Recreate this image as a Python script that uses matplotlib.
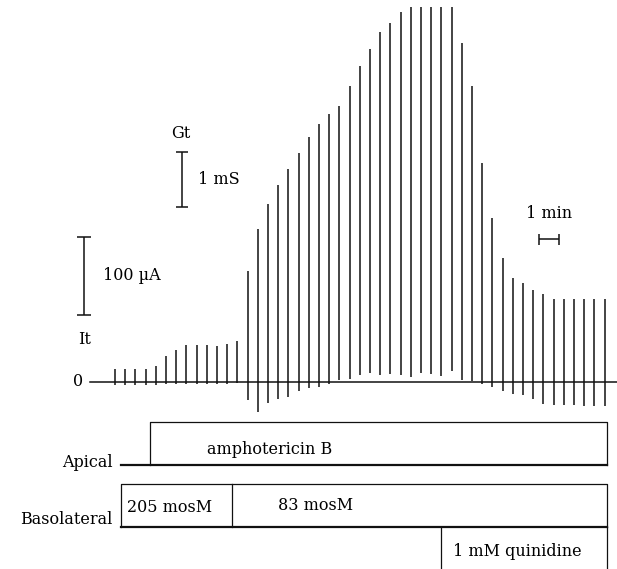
import matplotlib.pyplot as plt

plt.rcParams['font.family'] = 'DejaVu Serif'

# test pulses, one every 30 s (min)
pulse_t = [0.0, 0.5, 1.0, 1.5, 2.0, 2.5, 3.0, 3.5, 4.0, 4.5,
           5.0, 5.5, 6.0, 6.5, 7.0, 7.5, 8.0, 8.5, 9.0, 9.5,
           10.0, 10.5, 11.0, 11.5, 12.0, 12.5, 13.0, 13.5, 14.0, 14.5,
           15.0, 15.5, 16.0, 16.5, 17.0, 17.5, 18.0, 18.5, 19.0, 19.5,
           20.0, 20.5, 21.0, 21.5, 22.0, 22.5, 23.0, 23.5, 24.0]
# upper end of each current deflection (uA)
pulse_top = [16, 16, 16, 17, 21, 33, 41, 47, 47, 47,
             46, 48, 53, 142, 195, 227, 251, 272, 292, 313,
             330, 342, 353, 378, 404, 425, 447, 459, 473, 479,
             479, 479, 479, 479, 433, 378, 280, 210, 159, 133,
             127, 118, 112, 106, 106, 106, 106, 106, 106]
# lower end of each current deflection (uA)
pulse_bottom = [-4, -4, -4, -4, -4, -2, -2, -2, -2, -2,
                -2, -2, -1, -23, -38, -27, -22, -19, -12, -8,
                -6, -3, 3, 4, 9, 11, 9, 10, 9, 7,
                12, 10, 8, 14, 3, 1, -2, -7, -11, -15,
                -17, -22, -28, -29, -29, -29, -31, -31, -31]

# solution changes (min)
basolateral_start = 0.3
amphotericin_on = 1.7
hypo_on = 5.75
quinidine_on = 16.0
protocol_end = 24.1

# calibration bars
current_bar = 100   # uA
time_bar = 1        # min

PX_MIN = 20.4       # px per minute
PX_UA = 0.783       # px per uA
W, H = 617, 569
X0, Y0 = 115, 382   # pixel position of t=0, I=0

fig = plt.figure(figsize=(W / 100, H / 100), dpi=100)
ax = fig.add_axes([0, 0, 1, 1])
ax.set_xlim(-X0 / PX_MIN, (W - X0) / PX_MIN)
ax.set_ylim(-(H - Y0) / PX_UA, Y0 / PX_UA)
ax.axis('off')

ink = '#111111'
fs = 11.5

# zero line and pulses
ax.plot([-1.23, 24.6], [0, 0], color=ink, lw=1.1)
ax.vlines(pulse_t, pulse_bottom, pulse_top, color=ink, lw=1.1)
ax.text(-1.55, 0, '0', ha='right', va='center', fontsize=fs)
ax.text(-1.47, 54, 'It', ha='center', va='center', fontsize=fs)

# current bar
cx, cy = -1.52, 85.6
ax.vlines(cx, cy, cy + current_bar, color=ink, lw=1.1)
ax.hlines([cy, cy + current_bar], cx - 0.35, cx + 0.35, color=ink, lw=1.1)
ax.text(cx + 0.93, cy + current_bar / 2, '100 µA', ha='left', va='center', fontsize=fs)

# conductance bar
gx, gy = 3.27, 224
ax.vlines(gx, gy, gy + 70, color=ink, lw=1.1)
ax.hlines([gy, gy + 70], gx - 0.3, gx + 0.3, color=ink, lw=1.1)
ax.text(gx + 0.8, gy + 35, '1 mS', ha='left', va='center', fontsize=fs)
ax.text(gx - 0.03, gy + 70 + 24, 'Gt', ha='center', va='center', fontsize=fs)

# time bar
tx, ty = 20.78, 182
ax.hlines(ty, tx, tx + time_bar, color=ink, lw=1.1)
ax.vlines([tx, tx + time_bar], ty - 7, ty + 7, color=ink, lw=1.1)
ax.text(tx + time_bar / 2, ty + 33, '1 min', ha='center', va='center', fontsize=fs)

# protocol, y in pixels
axp = fig.add_axes([0, 0, 1, 1], sharex=ax)
axp.set_ylim(H, 0)
axp.axis('off')
axp.patch.set_alpha(0)

# apical
axp.plot([basolateral_start, protocol_end], [465, 465], color=ink, lw=1.6)
axp.plot([amphotericin_on, amphotericin_on, protocol_end, protocol_end],
         [465, 422, 422, 465], color=ink, lw=0.9)
axp.text(basolateral_start - 0.4, 462, 'Apical', ha='right', va='center', fontsize=fs)
axp.text(amphotericin_on + 2.8, 449, 'amphotericin B', ha='left', va='center', fontsize=fs)

# basolateral
axp.plot([basolateral_start, basolateral_start, protocol_end, protocol_end],
         [527, 484, 484, 527], color=ink, lw=0.9)
axp.plot([basolateral_start, protocol_end], [527, 527], color=ink, lw=1.6)
axp.plot([hypo_on, hypo_on], [484, 527], color=ink, lw=0.9)
axp.text(basolateral_start - 0.4, 520, 'Basolateral', ha='right', va='center', fontsize=fs)
axp.text(basolateral_start + 0.3, 508, '205 mosM', ha='left', va='center', fontsize=fs)
axp.text(hypo_on + 2.25, 505, '83 mosM', ha='left', va='center', fontsize=fs)

# quinidine
axp.plot([quinidine_on, quinidine_on], [527, H], color=ink, lw=0.9)
axp.plot([protocol_end, protocol_end], [527, H], color=ink, lw=0.9)
axp.text(quinidine_on + 0.55, 551, '1 mM quinidine', ha='left', va='center', fontsize=fs)

fig.savefig('out.png', dpi=100, facecolor='white')
